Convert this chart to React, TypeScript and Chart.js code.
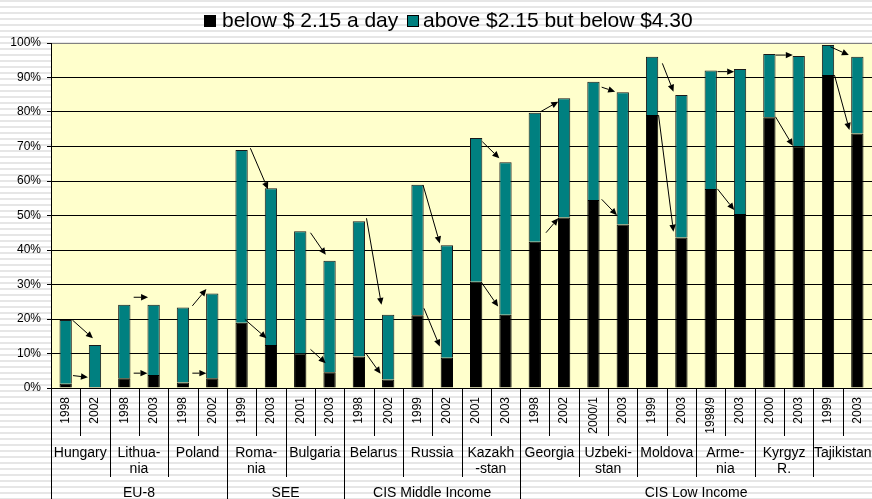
import React, { useEffect, useRef } from "react";
import { Chart, registerables } from "chart.js";

Chart.register(...registerables);

// ---- data ----
const years = [
  "1998", "2002", "1998", "2003", "1998", "2002",
  "1999", "2003", "2001", "2003",
  "1998", "2002", "1999", "2002", "2001", "2003",
  "1998", "2002", "2000/1", "2003", "1999", "2003", "1998/9", "2003", "2000", "2003", "1999", "2003",
];

const countries: string[][] = [
  ["Hungary"], ["Lithua-", "nia"], ["Poland"],
  ["Roma-", "nia"], ["Bulgaria"],
  ["Belarus"], ["Russia"], ["Kazakh", "-stan"],
  ["Georgia"], ["Uzbeki-", "stan"], ["Moldova"], ["Arme-", "nia"], ["Kyrgyz", "R."], ["Tajikistan"],
];

const groupNames = ["EU-8", "SEE", "CIS Middle Income", "CIS Low Income"];
const groupCountryCounts = [3, 2, 3, 6];

const belowValues = [
  1.2, 0.3, 2.8, 3.8, 1.6, 2.8,
  18.9, 12.5, 10.0, 4.6,
  9.1, 2.5, 21.1, 8.8, 30.8, 21.2,
  42.4, 49.4, 54.5, 47.4, 79.1, 43.6, 57.7, 50.4, 78.5, 70.1, 90.7, 73.8,
];

const aboveValues = [
  18.5, 12.2, 21.3, 20.3, 21.7, 24.6,
  50.1, 45.4, 35.4, 32.3,
  39.2, 18.7, 37.8, 32.6, 41.7, 44.2,
  37.4, 34.6, 34.3, 38.3, 16.9, 41.3, 34.3, 42.1, 18.3, 26.1, 8.7, 22.2,
];

const yTicks = [0, 10, 20, 30, 40, 50, 60, 70, 80, 90, 100];

const seriesNames = ["below $ 2.15 a day", "above $2.15 but below $4.30"];

// arrows: [fromCategory, fromValue, toCategory, toValue] (category index, percent)
const arrows: number[][] = [
  [0.23, 19.7, 0.93, 14.4],
  [0.25, 3.6, 0.76, 3.1],
  [2.32, 26.3, 2.81, 26.3],
  [2.32, 4.3, 2.79, 4.3],
  [4.32, 23.8, 4.8, 28.7],
  [4.32, 4.3, 4.8, 4.3],
  [6.3, 69.5, 6.9, 57.6],
  [6.11, 19.9, 6.85, 14.4],
  [8.35, 45.0, 8.87, 38.6],
  [8.35, 11.2, 8.87, 7.2],
  [10.26, 49.2, 10.77, 24.1],
  [10.26, 9.8, 10.74, 4.1],
  [12.19, 58.8, 12.76, 41.9],
  [12.22, 23.1, 12.76, 12.0],
  [14.21, 71.4, 14.79, 66.6],
  [14.19, 30.5, 14.75, 23.6],
  [16.2, 80.1, 16.8, 83.0],
  [16.38, 45.0, 16.8, 49.2],
  [18.28, 87.2, 18.74, 85.9],
  [18.28, 54.7, 18.8, 50.1],
  [20.35, 94.1, 20.73, 85.9],
  [20.22, 79.1, 20.73, 45.3],
  [22.23, 91.7, 22.8, 91.7],
  [22.23, 57.7, 22.8, 51.6],
  [24.21, 96.5, 24.8, 96.5],
  [24.21, 78.6, 24.8, 70.2],
  [26.08, 98.9, 26.71, 96.5],
  [26.22, 90.7, 26.73, 74.8],
];

const FONT = "'Liberation Sans', Arial, Helvetica, sans-serif";
const BLACK = "#000000";
const TEAL = "#008080";

const decorPlugin = {
  id: "decor",
  beforeDraw(chart: any) {
    const { ctx, chartArea } = chart;
    ctx.save();
    ctx.fillStyle = "#FFFFCC";
    ctx.fillRect(chartArea.left, chartArea.top, chartArea.right - chartArea.left, chartArea.bottom - chartArea.top);
    ctx.restore();
  },
  afterDatasetsDraw(chart: any) {
    const { ctx } = chart;
    const xs = chart.scales.x;
    const ys = chart.scales.y;
    ctx.save();
    ctx.strokeStyle = "#000";
    ctx.fillStyle = "#000";
    ctx.lineWidth = 1;
    for (const [c1, v1, c2, v2] of arrows) {
      const x1 = xs.getPixelForValue(c1);
      const y1 = ys.getPixelForValue(v1);
      const x2 = xs.getPixelForValue(c2);
      const y2 = ys.getPixelForValue(v2);
      const ang = Math.atan2(y2 - y1, x2 - x1);
      const hl = 7;
      const hw = 3.2;
      const bx = x2 - hl * Math.cos(ang);
      const by = y2 - hl * Math.sin(ang);
      ctx.beginPath();
      ctx.moveTo(x1, y1);
      ctx.lineTo(bx, by);
      ctx.stroke();
      ctx.beginPath();
      ctx.moveTo(x2, y2);
      ctx.lineTo(bx + hw * Math.sin(ang), by - hw * Math.cos(ang));
      ctx.lineTo(bx - hw * Math.sin(ang), by + hw * Math.cos(ang));
      ctx.closePath();
      ctx.fill();
    }
    ctx.restore();
  },
  afterDraw(chart: any) {
    const { ctx, chartArea } = chart;
    const xs = chart.scales.x;
    const H = chart.height;
    const n = years.length;
    const cw = xs.getPixelForValue(1) - xs.getPixelForValue(0);
    const base = chartArea.bottom;
    ctx.save();

    // plot border top
    ctx.strokeStyle = "#808080";
    ctx.lineWidth = 1;
    ctx.beginPath();
    ctx.moveTo(chartArea.left, Math.round(chartArea.top) + 0.5);
    ctx.lineTo(chartArea.right, Math.round(chartArea.top) + 0.5);
    ctx.stroke();

    // separators
    const groupStarts = new Set<number>();
    let acc = 0;
    for (const g of groupCountryCounts) {
      groupStarts.add(acc * 2);
      acc += g;
    }
    ctx.strokeStyle = "#000";
    for (let i = 0; i < n; i++) {
      const bx = Math.round(xs.getPixelForValue(i) - cw / 2) + 0.5;
      let end = 436;
      if (groupStarts.has(i)) end = H;
      else if (i % 2 === 0) end = 477;
      ctx.beginPath();
      ctx.moveTo(bx, base);
      ctx.lineTo(bx, end);
      ctx.stroke();
    }

    // year labels
    ctx.fillStyle = "#000";
    ctx.font = `12px ${FONT}`;
    ctx.textAlign = "right";
    ctx.textBaseline = "middle";
    for (let i = 0; i < n; i++) {
      const cx = xs.getPixelForValue(i);
      ctx.save();
      ctx.translate(cx, base + 9);
      ctx.rotate(-Math.PI / 2);
      ctx.fillText(years[i], 0, 0);
      ctx.restore();
    }

    // country labels
    ctx.font = `14px ${FONT}`;
    ctx.textAlign = "center";
    ctx.textBaseline = "alphabetic";
    countries.forEach((lines, k) => {
      const cx = (xs.getPixelForValue(2 * k) + xs.getPixelForValue(2 * k + 1)) / 2;
      lines.forEach((t, j) => {
        ctx.fillText(t, cx, 456.5 + j * 16.5);
      });
    });

    // group labels
    let start = 0;
    groupNames.forEach((g, k) => {
      const endIdx = start + groupCountryCounts[k] * 2 - 1;
      const cx = (xs.getPixelForValue(start) + xs.getPixelForValue(endIdx)) / 2;
      ctx.fillText(g, cx, 496.5);
      start = endIdx + 1;
    });

    // left axis extension
    ctx.beginPath();
    ctx.moveTo(Math.round(chartArea.left) + 0.5, chartArea.top);
    ctx.lineTo(Math.round(chartArea.left) + 0.5, H);
    ctx.stroke();

    // legend
    ctx.font = `21px ${FONT}`;
    ctx.textAlign = "left";
    ctx.textBaseline = "middle";
    const items = [
      { color: BLACK, text: seriesNames[0], boxX: 204, textX: 222 },
      { color: TEAL, text: seriesNames[1], boxX: 407, textX: 423 },
    ];
    for (const it of items) {
      ctx.fillStyle = it.color;
      ctx.fillRect(it.boxX, 15, 12, 12);
      ctx.strokeStyle = "#000";
      ctx.strokeRect(it.boxX + 0.5, 15.5, 11, 11);
      ctx.fillStyle = "#000";
      ctx.fillText(it.text, it.textX, 21.5);
    }
    ctx.restore();
  },
};

export default function App() {
  const ref = useRef<HTMLCanvasElement | null>(null);
  useEffect(() => {
    document.body.style.margin = "0";
    if (!ref.current) return;
    const chart = new Chart(ref.current, {
      type: "bar",
      data: {
        labels: years,
        datasets: [
          {
            label: seriesNames[0],
            data: belowValues,
            backgroundColor: BLACK,
            borderColor: "#000",
            borderWidth: 1,
            barPercentage: 0.42,
            categoryPercentage: 1,
          },
          {
            label: seriesNames[1],
            data: aboveValues,
            backgroundColor: TEAL,
            borderColor: "#1a1a1a",
            borderWidth: 1,
            barPercentage: 0.42,
            categoryPercentage: 1,
          },
        ],
      },
      options: {
        responsive: false,
        animation: false,
        devicePixelRatio: 1,
        layout: { padding: { top: 43, bottom: 111, left: 0, right: 0 } },
        plugins: {
          legend: { display: false },
          tooltip: { enabled: false },
        },
        scales: {
          x: {
            stacked: true,
            display: false,
          },
          y: {
            stacked: true,
            min: 0,
            max: 100,
            afterFit(scale: any) {
              scale.width = 51;
            },
            afterBuildTicks(scale: any) {
              scale.ticks = yTicks.map((v) => ({ value: v }));
            },
            grid: {
              color: (c: any) => (c.tick && c.tick.value === 100 ? "#808080" : "#000"),
              lineWidth: 1,
              drawTicks: true,
              tickLength: 4,
              tickColor: "#000",
            },
            border: { display: true, color: "#000" },
            ticks: {
              color: "#000",
              font: { family: FONT, size: 12 },
              padding: 6,
              callback: (v: any) => `${v}%`,
            },
          },
        },
      },
      plugins: [decorPlugin],
    });
    return () => chart.destroy();
  }, []);

  return (
    <div
      style={{
        position: "fixed",
        left: 0,
        top: 0,
        width: 872,
        height: 499,
        background: "repeating-linear-gradient(to bottom, #e6e6e6 0px, #e6e6e6 2px, #ffffff 2px, #ffffff 6px)",
      }}
    >
      <canvas ref={ref} width={872} height={499} style={{ display: "block", width: 872, height: 499 }} />
    </div>
  );
}
